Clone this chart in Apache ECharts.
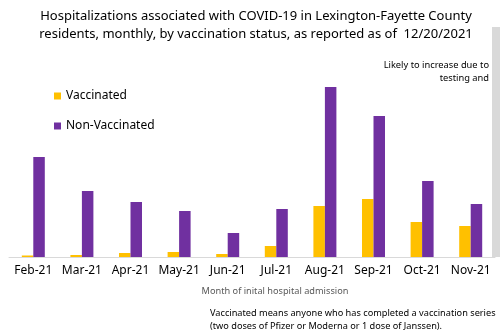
<!DOCTYPE html>
<html><head><meta charset="utf-8">
<script src="https://cdn.jsdelivr.net/npm/echarts@6/dist/echarts.min.js"></script>
<style>html,body{margin:0;padding:0;background:#fff}#c{width:500px;height:332px}</style>
</head><body><div id="c"></div>
<script>
const categories = ['Feb-21','Mar-21','Apr-21','May-21','Jun-21','Jul-21','Aug-21','Sep-21','Oct-21','Nov-21'];
const vaccinated = [1.5, 2, 4, 5, 3, 11, 51, 58, 35, 31];
const nonVaccinated = [100, 66, 55, 46, 24, 48, 170, 141, 76, 53];
const titleLines = ['Hospitalizations associated with COVID-19 in Lexington-Fayette County','residents, monthly, by vaccination status, as reported as of  12/20/2021'];
const axisTitle = 'Month of inital hospital admission';
const noteLines = ['Vaccinated means anyone who has completed a vaccination series','(two doses of Pfizer or Moderna or 1 dose of Janssen).'];
const annotationLines = ['Likely to increase due to','testing and'];

const font = 'Noto Sans';
const chart = echarts.init(document.getElementById('c'));
chart.setOption({
  animation: false,
  title: {
    text: titleLines.join('\n'), left: 251, top: 2, textAlign: 'center',
    textStyle: {fontFamily: font, fontSize: 13, fontWeight: 'normal', color: '#000', lineHeight: 18}
  },
  legend: {
    orient: 'vertical', left: 49, top: 85, itemWidth: 7, itemHeight: 7, itemGap: 18,
    icon: 'rect',
    textStyle: {fontFamily: font, fontSize: 12, color: '#000'},
    data: ['Vaccinated','Non-Vaccinated']
  },
  grid: {left: 9, right: 5, top: 27, bottom: 75},
  xAxis: {
    type: 'category', data: categories,
    axisLine: {lineStyle: {color: '#d9d9d9', width: 1}},
    axisTick: {show: false},
    axisLabel: {fontFamily: font, fontSize: 12, color: '#000', margin: 8, interval: 0}
  },
  yAxis: {type: 'value', min: 0, max: 230, show: false, splitLine: {show: false}},
  series: [
    {name: 'Vaccinated', type: 'bar', data: vaccinated, barWidth: 11.5, barGap: '0%', itemStyle: {color: '#FFC000'}},
    {name: 'Non-Vaccinated', type: 'bar', data: nonVaccinated, barWidth: 11.5, barGap: '0%', itemStyle: {color: '#7030A0'}}
  ],
  graphic: [
    {type: 'rect', shape: {x: 492, y: 27, width: 8, height: 230}, style: {fill: '#d9d9d9'}, z: 10},
    {type: 'text', x: 489, y: 59, style: {text: annotationLines.join('\n'), textAlign: 'right', font: '9.3px "Noto Sans"', fill: '#000', lineHeight: 13}},
    {type: 'text', x: 275, y: 287, style: {text: axisTitle, textAlign: 'center', font: '9.2px "Noto Sans"', fill: '#595959'}},
    {type: 'text', x: 210, y: 307, style: {text: noteLines.join('\n'), font: '9.2px "Noto Sans"', fill: '#000', lineHeight: 13}}
  ]
});
</script></body></html>
